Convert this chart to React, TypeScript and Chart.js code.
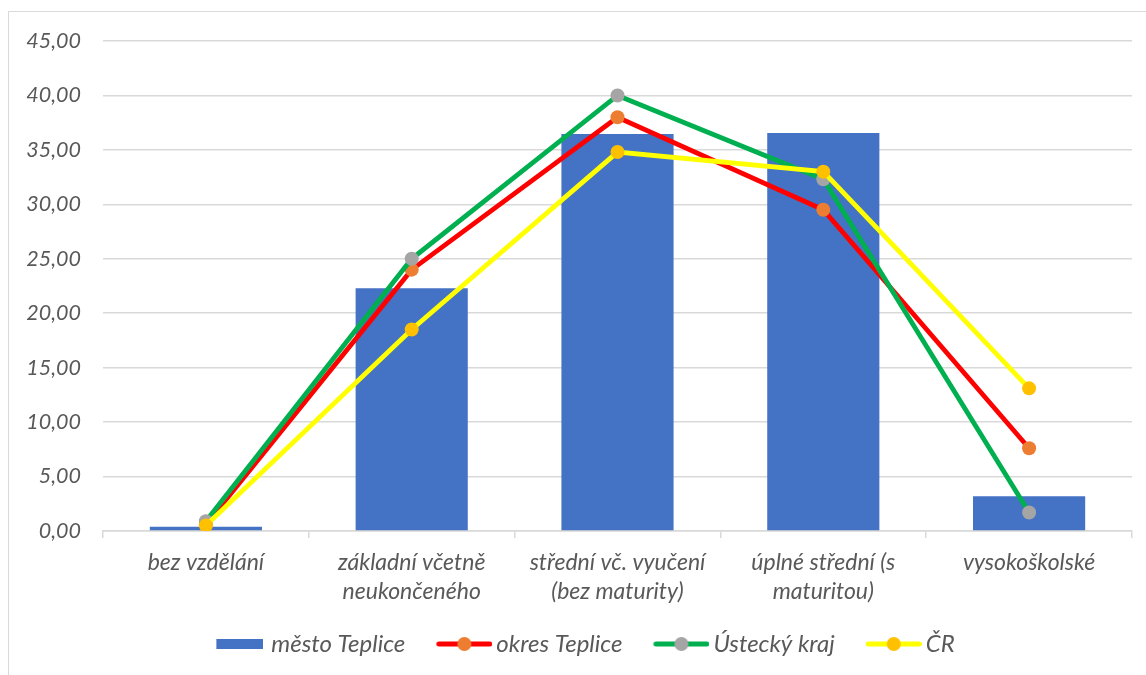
import React, { useEffect, useRef } from "react";
import { Chart, registerables } from "chart.js";

Chart.register(...registerables);

const categories: string[][] = [
  ["bez vzdělání"],
  ["základní včetně", "neukončeného"],
  ["střední vč. vyučení", "(bez maturity)"],
  ["úplné střední (s", "maturitou)"],
  ["vysokoškolské"],
];

const seriesNames = ["město Teplice", "okres Teplice", "Ústecký kraj", "ČR"];

const mestoTeplice = [0.4, 22.3, 36.45, 36.55, 3.2];
const okresTeplice = [0.6, 24.0, 38.0, 29.5, 7.6];
const usteckyKraj = [0.9, 25.0, 40.0, 32.3, 1.7];
const ceskaRepublika = [0.5, 18.5, 34.8, 33.0, 13.1];

const yMin = 0;
const yMax = 45;
const yStep = 5;

const TEXT = "#595959";
const GRID = "#d9d9d9";
const FONT = "Lato";

// icon canvases carry transparent room on the left so the visible swatch
// sits where the reference puts it relative to the legend text
function barIcon(color: string) {
  const c = document.createElement("canvas");
  c.width = 66;
  c.height = 10;
  const ctx = c.getContext("2d")!;
  ctx.fillStyle = color;
  ctx.fillRect(19, 0, 47, 10);
  return c;
}

function lineIcon(line: string, marker: string) {
  const c = document.createElement("canvas");
  c.width = 74;
  c.height = 16;
  const ctx = c.getContext("2d")!;
  const o = 18;
  ctx.strokeStyle = line;
  ctx.lineWidth = 5;
  ctx.lineCap = "round";
  ctx.beginPath();
  ctx.moveTo(o + 2.5, 8);
  ctx.lineTo(o + 53.5, 8);
  ctx.stroke();
  ctx.fillStyle = marker;
  ctx.beginPath();
  ctx.arc(o + 28, 8, 7, 0, Math.PI * 2);
  ctx.fill();
  return c;
}

export default function App() {
  const ref = useRef<HTMLCanvasElement | null>(null);

  useEffect(() => {
    if (!ref.current) return;
    const icons = [
      barIcon("#4472C4"),
      lineIcon("#FF0000", "#ED7D31"),
      lineIcon("#00B050", "#A5A5A5"),
      lineIcon("#FFFF00", "#FFC000"),
    ];
    const lineDs = (label: string, data: number[], line: string, marker: string, order: number) => ({
      type: "line" as const,
      label,
      data,
      borderColor: line,
      backgroundColor: marker,
      borderWidth: 4.8,
      pointRadius: 7,
      pointHoverRadius: 7,
      pointBackgroundColor: marker,
      pointBorderColor: marker,
      pointBorderWidth: 0,
      tension: 0,
      fill: false,
      order,
    });
    const chart = new Chart(ref.current, {
      type: "bar",
      data: {
        labels: categories,
        datasets: [
          {
            type: "bar",
            label: seriesNames[0],
            data: mestoTeplice,
            backgroundColor: "#4472C4",
            barPercentage: 0.545,
            categoryPercentage: 1,
            order: 4,
          },
          lineDs(seriesNames[1], okresTeplice, "#FF0000", "#ED7D31", 3),
          lineDs(seriesNames[2], usteckyKraj, "#00B050", "#A5A5A5", 2),
          lineDs(seriesNames[3], ceskaRepublika, "#FFFF00", "#FFC000", 1),
        ] as any,
      },
      options: {
        animation: false,
        responsive: false,
        maintainAspectRatio: false,
        layout: { padding: { top: 41, right: 14, left: 24, bottom: 9 } },
        plugins: {
          tooltip: { enabled: false },
          legend: {
            position: "bottom",
            labels: {
              usePointStyle: true,
              pointStyleWidth: 58,
              padding: 21,
              color: TEXT,
              font: { family: FONT, size: 24, style: "italic" },
              generateLabels: (ch: any) =>
                ch.data.datasets.map((ds: any, i: number) => ({
                  text: ds.label,
                  datasetIndex: i,
                  pointStyle: icons[i],
                  fillStyle: "transparent",
                  strokeStyle: "transparent",
                  lineWidth: 0,
                  hidden: false,
                  fontColor: TEXT,
                })),
            },
          },
        },
        scales: {
          x: {
            offset: true,
            grid: {
              offset: true,
              drawOnChartArea: false,
              drawTicks: true,
              tickLength: 7,
              color: GRID,
              lineWidth: 1.5,
            },
            border: { display: true, color: GRID, width: 1.5 },
            ticks: {
              color: TEXT,
              padding: 10,
              maxRotation: 0,
              autoSkip: false,
              font: { family: FONT, size: 23, style: "italic", lineHeight: 1.26 },
            },
            afterFit: (s: any) => {
              s.height = 80;
            },
          },
          y: {
            min: yMin,
            max: yMax,
            ticks: {
              stepSize: yStep,
              color: TEXT,
              padding: 22,
              font: { family: FONT, size: 21.5, style: "italic" },
              callback: (v: any) => Number(v).toFixed(2).replace(".", ","),
            },
            grid: { color: GRID, lineWidth: 1.5, drawTicks: false },
            border: { display: false },
            afterFit: (s: any) => {
              s.width = 79;
            },
          },
        },
      } as any,
    });
    return () => chart.destroy();
  }, []);

  return (
    <div
      style={{
        position: "fixed",
        left: 0,
        top: 0,
        width: 1146,
        height: 675,
        overflow: "hidden",
        background: "#fff",
      }}
    >
      <div
        style={{
          position: "absolute",
          left: 8,
          top: 11,
          width: 1200,
          height: 700,
          border: "1.5px solid #d9d9d9",
          boxSizing: "border-box",
        }}
      />
      <canvas
        ref={ref}
        width={1146}
        height={675}
        style={{ position: "absolute", left: 0, top: 0, width: 1146, height: 675 }}
      />
    </div>
  );
}
